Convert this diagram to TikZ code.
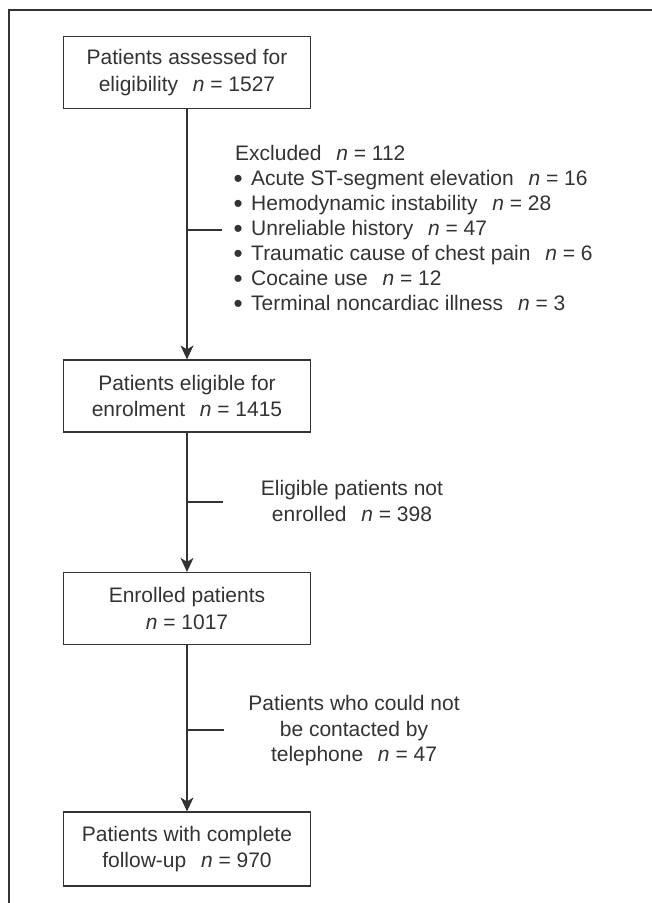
\documentclass[tikz,border=0pt]{standalone}
\usepackage{fontspec}
\setmainfont{Liberation Sans}
\usetikzlibrary{arrows.meta}
\definecolor{ink}{gray}{0.2}
\newcommand{\nn}{\hspace{0.7em}\textit{n} = }
\newcommand{\bul}{\makebox[16pt][l]{\hspace{-1.5pt}\raisebox{-2.2pt}{\fontsize{26}{25}\selectfont\textbullet}}}
\begin{document}
\begin{tikzpicture}[x=1pt,y=-1pt,
  every node/.style={font=\fontsize{21}{26.5}\selectfont, text=ink},
  flowbox/.style={draw=ink, line width=1.2pt, minimum width=247pt, minimum height=72pt, align=center, inner sep=0pt},
  link/.style={draw=ink, line width=1.2pt},
  flow/.style={link, -{Stealth[length=14pt,width=13pt,inset=4pt]}},
  side/.style={align=center, inner sep=0pt}]
\useasboundingbox (0,0) rectangle (652,903);
\draw[link] (9,910) -- (9,10) -- (660,10);

\node[flowbox] (b1) at (187,72.5) {Patients assessed for\\eligibility\nn 1527};
\node[flowbox] (b2) at (187,396) {Patients eligible for\\enrolment\nn 1415};
\node[flowbox] (b3) at (187,608.5) {Enrolled patients\\\textit{n} = 1017};
\node[flowbox, minimum height=74pt] (b4) at (187,849) {Patients with complete\\follow-up\nn 970};

\draw[flow] (b1) -- (b2);
\draw[flow] (b2) -- (b3);
\draw[flow] (b3) -- (b4);

\coordinate (t1) at (222,230);
\coordinate (t2) at (223,502);
\coordinate (t3) at (224,730);
\draw[link] (b1.south |- t1) -- (t1);
\draw[link] (b2.south |- t2) -- (t2);
\draw[link] (b3.south |- t3) -- (t3);

\node[align=left, inner sep=0pt, anchor=north west, font=\fontsize{21}{25}\selectfont] (excl) at (235,145)
 {Excluded\nn 112\\
  \bul Acute ST-segment elevation\nn 16\\
  \bul Hemodynamic instability\nn 28\\
  \bul Unreliable history\nn 47\\
  \bul Traumatic cause of chest pain\nn 6\\
  \bul Cocaine use\nn 12\\
  \bul Terminal noncardiac illness\nn 3};

\node[side] (notenr) at (352,501) {Eligible patients not\\enrolled\nn 398};
\node[side, font=\fontsize{21}{25.5}\selectfont] (notcont) at (354,731) {Patients who could not\\be contacted by\\telephone\nn 47};
\end{tikzpicture}
\end{document}
